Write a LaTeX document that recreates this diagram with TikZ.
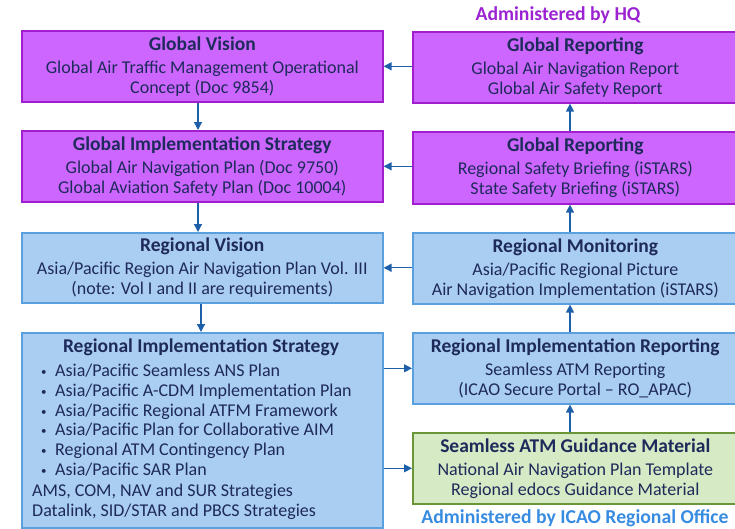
\documentclass[tikz,border=0pt]{standalone}
\usepackage{fontspec}
\setmainfont{Carlito}
\usetikzlibrary{arrows.meta,calc}
\definecolor{ink}{RGB}{30,42,90}
\definecolor{purfill}{RGB}{204,102,255}
\definecolor{purline}{RGB}{160,30,205}
\definecolor{bluefill}{RGB}{170,205,242}
\definecolor{blueline}{RGB}{90,160,222}
\definecolor{grnfill}{RGB}{213,234,197}
\definecolor{grnline}{RGB}{106,150,55}
\definecolor{arrcol}{RGB}{30,95,170}
\definecolor{hqcol}{RGB}{155,35,210}
\definecolor{rocol}{RGB}{55,140,225}
\newcommand\hdfont{\fontsize{19.5}{20}\selectfont\bfseries}
\newcommand\bul{\makebox[23pt][l]{\hspace{9pt}\raisebox{1pt}{\fontsize{11}{11}\selectfont •}}}
\begin{document}
\begin{tikzpicture}[x=1pt,y=-1pt,
  box/.style={draw, line width=1.6pt, inner sep=0pt, anchor=north west,
    text=ink, align=center, font=\fontsize{18}{20}\selectfont},
  leftbox/.style={box, minimum width=361pt},
  rightbox/.style={box, minimum width=325pt},
  global/.style={fill=purfill, draw=purline},
  regional/.style={fill=bluefill, draw=blueline},
  guide/.style={fill=grnfill, draw=grnline},
  arr/.style={draw=arrcol, line width=1.3pt, -{Triangle[length=8pt,width=8pt]}},
  admin/.style={font=\fontsize{19.7}{20}\selectfont\bfseries}
]
\useasboundingbox (0,0) rectangle (735,528);

% left column: strategy and vision
\node[leftbox, global, minimum height=71pt] (gv) at (21,30)
  {{\hdfont Global Vision}\\[3pt]
   Global Air Traffic Management Operational\\ Concept (Doc 9854)};
\node[leftbox, global, minimum height=71pt] (gis) at (21,130)
  {{\hdfont Global Implementation Strategy}\\[3pt]
   Global Air Navigation Plan (Doc 9750)\\ Global Aviation Safety Plan (Doc 10004)};
\node[leftbox, regional, minimum height=70pt] (rv) at (21,232)
  {{\hdfont Regional Vision}\\[3pt]
   Asia/Pacific Region Air Navigation Plan Vol. III\\ (note: Vol I and II are requirements)};
\node[leftbox, regional, minimum height=195pt] (ris) at (21,332) {};
\node[text=ink, font=\hdfont, anchor=center] (ristitle) at (201,347.5) {Regional Implementation Strategy};
\node[text=ink, anchor=north west, align=left, inner sep=0pt,
      font=\fontsize{18}{19.7}\selectfont] (rislist) at (32,364)
  {\bul Asia/Pacific Seamless ANS Plan\\
   \bul Asia/Pacific A-CDM Implementation Plan\\
   \bul Asia/Pacific Regional ATFM Framework\\
   \bul Asia/Pacific Plan for Collaborative AIM\\
   \bul Regional ATM Contingency Plan\\
   \bul Asia/Pacific SAR Plan\\[2pt]
   AMS, COM, NAV and SUR Strategies\\
   Datalink, SID/STAR and PBCS Strategies};

% right column: reporting and monitoring
\node[rightbox, global, minimum height=71pt] (gr1) at (412,31)
  {{\hdfont Global Reporting}\\[3pt]
   Global Air Navigation Report\\ Global Air Safety Report};
\node[rightbox, global, minimum height=72pt] (gr2) at (412,131)
  {{\hdfont Global Reporting}\\[3pt]
   Regional Safety Briefing (iSTARS)\\ State Safety Briefing (iSTARS)};
\node[rightbox, regional, minimum height=71pt] (rm) at (412,232)
  {{\hdfont Regional Monitoring}\\[3pt]
   Asia/Pacific Regional Picture\\ Air Navigation Implementation (iSTARS)};
\node[rightbox, regional, minimum height=71pt] (rir) at (412,332)
  {{\hdfont Regional Implementation Reporting}\\[3pt]
   Seamless ATM Reporting\\ (ICAO Secure Portal -- RO\_APAC)};
\node[rightbox, guide, minimum height=71pt] (sam) at (412,432)
  {{\hdfont Seamless ATM Guidance Material}\\[3pt]
   National Air Navigation Plan Template\\ Regional edocs Guidance Material};

% administration labels
\node[text=hqcol, admin] (hq) at (558,15) {Administered by HQ};
\node[text=rocol, admin, anchor=base, inner sep=0pt] (ro) at (575,523.5) {Administered by ICAO Regional Office};

% top-down flow on the left
\draw[arr] (gv.south -| 198,0) -- (gis.north -| 198,0);
\draw[arr] (gis.south -| 198,0) -- (rv.north -| 198,0);
\draw[arr] (rv.south -| 201,0) -- (ris.north -| 201,0);

% bottom-up flow on the right
\coordinate (xr) at (570,0);
\draw[arr] (sam.north -| xr) -- (rir.south -| xr);
\draw[arr] (rir.north -| xr) -- (rm.south -| xr);
\draw[arr] (rm.north -| xr) -- (gr2.south -| xr);
\draw[arr] (gr2.north -| xr) -- (gr1.south -| xr);

% feedback from right to left
\draw[arr] (gr1.west |- gv.east) -- (gv.east);
\draw[arr] (gr2.west |- gis.east) -- (gis.east);
\draw[arr] (rm.west |- rv.east) -- (rv.east);

% strategy feeding reporting and guidance
\draw[arr] (ris.east |- rir.west) -- (rir.west);
\draw[arr] (ris.east |- sam.west) -- (sam.west);
\end{tikzpicture}
\end{document}
